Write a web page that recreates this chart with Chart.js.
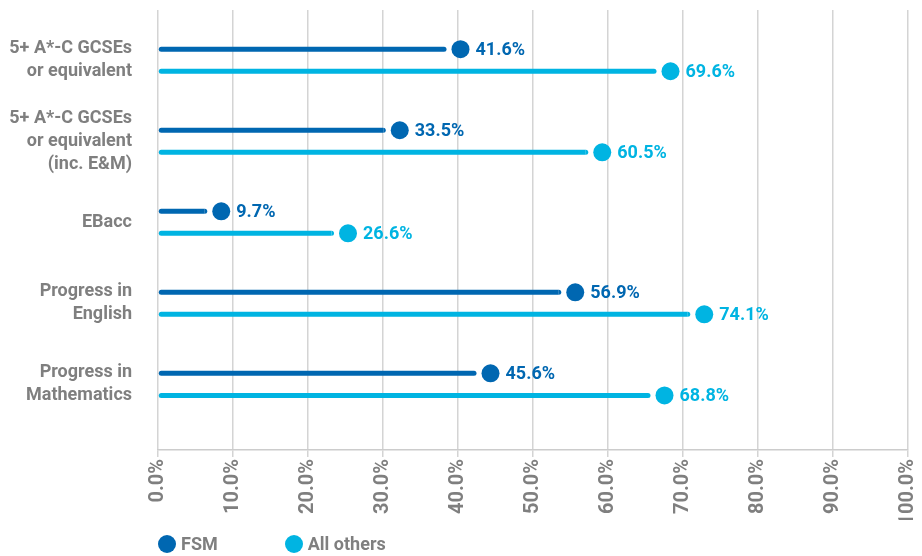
<!DOCTYPE html>
<html>
<head>
<meta charset="utf-8">
<script src="https://cdn.jsdelivr.net/npm/chart.js@4/dist/chart.umd.min.js"></script>
<style>
  html, body { margin: 0; padding: 0; background: #ffffff; }
  #wrap { position: relative; width: 922px; height: 556px; }
  #legend { position: absolute; left: 158px; top: 533px; display: flex; align-items: center;
            font-family: Roboto, 'Liberation Sans', sans-serif; font-weight: bold;
            font-size: 18px; color: #7f7f7f; line-height: 22px; }
  .item { display: flex; align-items: center; }
  .dot { width: 18px; height: 18px; border-radius: 50%; margin-right: 5px; }
</style>
</head>
<body>
<div id="wrap">
  <canvas id="c" width="922" height="556"></canvas>
  <div id="legend"></div>
</div>
<script>
const categories = [
  ['5+ A*-C GCSEs', 'or equivalent'],
  ['5+ A*-C GCSEs', 'or equivalent', '(inc. E&M)'],
  ['EBacc'],
  ['Progress in', 'English'],
  ['Progress in', 'Mathematics']
];
const fsmValues = [41.6, 33.5, 9.7, 56.9, 45.6];
const otherValues = [69.6, 60.5, 26.6, 74.1, 68.8];
const seriesNames = ['FSM', 'All others'];
const xTickValues = [0, 10, 20, 30, 40, 50, 60, 70, 80, 90, 100];

const COLORS = ['#0067b1', '#00b4e2'];
const FONT = "Roboto, 'Liberation Sans', sans-serif";
const GRAY = '#7f7f7f';
const ROW_OFFSET = 0.136;

const lollipop = {
  id: 'lollipop',
  afterDatasetsDraw(chart) {
    const ctx = chart.ctx;
    chart.data.datasets.forEach((ds, di) => {
      const meta = chart.getDatasetMeta(di);
      meta.data.forEach((bar, i) => {
        const xEnd = bar.x, y = bar.y, h = bar.height;
        const r = 9;
        const cx = xEnd - 9.5;
        ctx.save();
        // trim the bar end to leave a gap before the dot
        ctx.fillStyle = '#ffffff';
        ctx.fillRect(xEnd - 26, y - h / 2 - 1, 27, h + 2);
        ctx.fillStyle = ds.backgroundColor;
        ctx.beginPath();
        ctx.arc(xEnd - 26, y, h / 2, -Math.PI / 2, Math.PI / 2);
        ctx.fill();
        // dot
        ctx.beginPath();
        ctx.arc(cx, y, r, 0, Math.PI * 2);
        ctx.fill();
        // value label
        ctx.font = 'bold 18px ' + FONT;
        ctx.textBaseline = 'middle';
        ctx.textAlign = 'left';
        ctx.fillText(ds.data[i].x.toFixed(1) + '%', cx + r + 6, y + 1);
        ctx.restore();
      });
    });
  }
};

const chart = new Chart(document.getElementById('c'), {
  type: 'bar',
  data: {
    datasets: [
      { label: seriesNames[0], data: fsmValues.map((v, i) => ({ x: v, y: i - ROW_OFFSET })),
        backgroundColor: COLORS[0], borderRadius: 3, borderSkipped: false },
      { label: seriesNames[1], data: otherValues.map((v, i) => ({ x: v, y: i + ROW_OFFSET })),
        backgroundColor: COLORS[1], borderRadius: 3, borderSkipped: false }
    ]
  },
  options: {
    indexAxis: 'y',
    responsive: false,
    animation: false,
    devicePixelRatio: 1,
    grouped: false,
    maxBarThickness: 5,
    layout: { padding: { top: 10, right: 14, bottom: 36, left: 0 } },
    plugins: { legend: { display: false }, tooltip: { enabled: false } },
    scales: {
      x: {
        type: 'linear', min: 0, max: 100, offset: false,
        afterBuildTicks: s => { s.ticks = xTickValues.map(v => ({ value: v })); },
        afterFit: s => { s.height = 70; s.paddingLeft = 0; s.paddingRight = 0; },
        grid: { color: '#d4d4d4', lineWidth: 1.5, tickLength: 7, drawTicks: true, offset: false },
        border: { display: true, color: '#cccccc', width: 1.5 },
        ticks: {
          autoSkip: false, minRotation: 90, maxRotation: 90, padding: 2,
          color: GRAY, font: { family: FONT, weight: 'bold', size: 20 },
          callback: v => Number(v).toFixed(1) + '%'
        }
      },
      y: {
        type: 'linear', min: -0.62, max: 4.81, reverse: true, offset: false,
        afterBuildTicks: s => { s.ticks = categories.map((c, i) => ({ value: i })); },
        afterFit: s => { s.width = 158; s.paddingTop = 0; s.paddingBottom = 0; },
        grid: { display: false, drawTicks: false, offset: false },
        border: { display: false },
        ticks: {
          padding: 26, color: GRAY, autoSkip: false,
          font: { family: FONT, weight: 'bold', size: 18, lineHeight: 1.28 },
          callback: v => categories[v] || ''
        }
      }
    }
  },
  plugins: [lollipop]
});

// HTML legend built from the chart's datasets
const legend = document.getElementById('legend');
chart.data.datasets.forEach((ds, i) => {
  const item = document.createElement('div');
  item.className = 'item';
  if (i > 0) item.style.marginLeft = '67px';
  const dot = document.createElement('span');
  dot.className = 'dot';
  dot.style.background = ds.backgroundColor;
  const txt = document.createElement('span');
  txt.textContent = ds.label;
  item.appendChild(dot);
  item.appendChild(txt);
  legend.appendChild(item);
});
</script>
</body>
</html>
